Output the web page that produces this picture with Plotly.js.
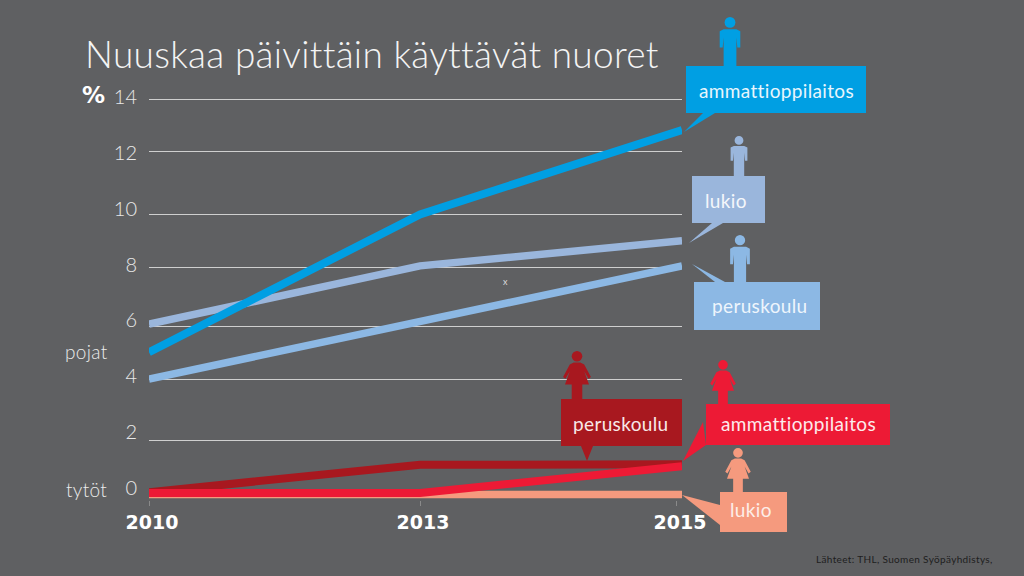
<!DOCTYPE html>
<html><head><meta charset="utf-8">
<script src="https://cdn.plot.ly/plotly-3.0.1.min.js"></script>
<style>html,body{margin:0;padding:0;background:#5f6062}
.gtitle{letter-spacing:.3px}
.annotation-text{letter-spacing:.35px}
</style></head>
<body><div id="chart" style="width:1024px;height:576px"></div>
<script>
// ---- data ----
const years = ['2010','2013','2015'];
const yearPositions = [0, 1.017, 2];
const yearTickPositions = [0, 1.017, 1.981];
const boysVocational = [5.0, 9.9, 12.9];
const boysUpperSec = [6.0, 8.07, 8.96];
const boysComprehensive = [4.05, 6.11, 8.07];
const girlsComprehensive = [0.03, 1.0, 1.02];
const girlsVocational = [0.0, 0.0, 0.95];
const girlsUpperSec = [-0.05, -0.05, -0.05];
const gridValues = [14, 12.13, 9.91, 8.03, 5.9, 4.02, 1.85];
const tickLabels = [14, 12, 10, 8, 6, 4, 2, 0];

// ---- colours ----
const BG='#5f6062', BLUE='#009fe3', LUKIO='#9ab6dc', PERUS='#8cb8e4', DARK='#a8181f', RED='#ed1a35', SALMON='#f59a7e';

// ---- page layout helpers (image pixels to paper fractions) ----
const FONT='Lato, sans-serif';
const L=149,R=682,T=90,B=500;
const px=x=>(x-L)/(R-L), py=y=>(B-y)/(B-T);
const poly=(pts,color)=>({type:'path',xref:'paper',yref:'paper',fillcolor:color,line:{width:0},
  path:'M'+pts.map(p=>px(p[0])+','+py(p[1])).join('L')+'Z'});
const rect=(x0,y0,x1,y1,color)=>({type:'rect',xref:'paper',yref:'paper',x0:px(x0),x1:px(x1),y0:py(y1),y1:py(y0),fillcolor:color,line:{width:0}});
const head=(cx,cy,r,color)=>({type:'circle',xref:'paper',yref:'paper',x0:px(cx-r),x1:px(cx+r),y0:py(cy+r),y1:py(cy-r),fillcolor:color,line:{width:0}});
const malePts=[[-.13,.25],[.13,.25],[.21,.29],[.21,.62],[.15,.62],[.13,.42],[.13,1],[-.13,1],[-.13,.42],[-.15,.62],[-.21,.62],[-.21,.29]];
const femalePts=[[-.07,.24],[.07,.24],[.15,.28],[.29,.54],[.24,.58],[.15,.42],[.25,.7],[.11,.7],[.11,1],[-.11,1],[-.11,.7],[-.25,.7],[-.15,.42],[-.24,.58],[-.29,.54],[-.15,.28]];
const person=(pts,cx,top,h,color)=>[
  head(cx,top+.11*h,.11*h,color),
  poly(pts.map(p=>[cx+p[0]*h,top+p[1]*h]),color)];

const shapes=[
  rect(686,66,866,113,BLUE), poly([[684,132],[703,113],[715,113]],BLUE), ...person(malePts,730,17,49,BLUE),
  rect(692,176,765,223,LUKIO), poly([[689,243],[712,223],[723,223]],LUKIO), ...person(malePts,739,136,40,LUKIO),
  rect(694,282,820,330,PERUS), poly([[692,264],[715,282],[725,282]],PERUS), ...person(malePts,740,235,47,PERUS),
  rect(561,399,682,446,DARK), poly([[581,446],[593,446],[587,461]],DARK), ...person(femalePts,577,351,48,DARK),
  rect(706,404,890,445,RED), poly([[683,461],[703,422],[706,445]],RED), ...person(femalePts,723,360,44,RED),
  rect(720,492,787,532,SALMON), poly([[682,495],[720,505],[720,525]],SALMON), ...person(femalePts,738,448,44,SALMON)
];

const note=(text,x,y,anchor,size,color,weight)=>({text:text,xref:'paper',yref:'paper',x:px(x),y:py(y),xanchor:anchor,yanchor:'middle',showarrow:false,
  font:{family:FONT,size:size,color:color,weight:weight||400}});
const annotations=[
  note('ammattioppilaitos',776.5,90,'center',19,'#e8f6fd'),
  note('lukio',726,200,'center',19,'#f4f7fb'),
  note('peruskoulu',759,305,'center',19,'#eef5fc'),
  note('peruskoulu',620,423,'center',19,'#f8e8e8'),
  note('ammattioppilaitos',798,423,'center',19,'#fdeaec'),
  note('lukio',751,509,'center',19,'#fdeee8'),
  note('pojat',86.5,351,'center',19,'#ececec',300),
  note('tytöt',86,489,'center',19,'#ececec',300),
  {text:'<b>%</b>',xref:'paper',yref:'paper',x:px(93),y:py(95),xanchor:'center',yanchor:'middle',showarrow:false,font:{family:'DejaVu Sans',size:23,color:'#ffffff'}},
  note('x',505,281,'center',9,'#dddddd'),
  note('Lähteet: THL, Suomen Syöpäyhdistys,',904.5,559,'center',10,'#1e1e1e')
];

const line=(y,color,width,name)=>({x:yearPositions,y:y,name:name,mode:'lines',type:'scatter',line:{color:color,width:width,shape:'linear'},hoverinfo:'name+y'});
const data=[
  line(boysUpperSec,LUKIO,7.5,'pojat lukio'),
  line(boysComprehensive,PERUS,7.5,'pojat peruskoulu'),
  line(boysVocational,BLUE,8,'pojat ammattioppilaitos'),
  line(girlsUpperSec,SALMON,7.5,'tytöt lukio'),
  line(girlsComprehensive,DARK,8,'tytöt peruskoulu'),
  line(girlsVocational,RED,8,'tytöt ammattioppilaitos'),
  {x:[0],y:[0],yaxis:'y2',mode:'none',type:'scatter',showlegend:false,hoverinfo:'skip'}
];

const layout={
  width:1024,height:576,paper_bgcolor:BG,plot_bgcolor:BG,showlegend:false,
  margin:{l:L,r:1024-R,t:T,b:576-B,pad:0},
  title:{text:'Nuuskaa päivittäin käyttävät nuoret',x:85/1024,xanchor:'left',y:1-55/576,yanchor:'middle',
    font:{family:FONT,size:37,color:'#f4f4f4',weight:300}},
  xaxis:{range:[0,2],tickmode:'array',tickvals:yearTickPositions,ticktext:years,showgrid:false,zeroline:false,showline:false,
    ticks:'outside',ticklen:5,tickwidth:1,tickcolor:'#8a8a8a',ticklabelshift:3,
    tickfont:{family:'DejaVu Sans',size:19,color:'#ffffff',weight:700}},
  yaxis:{range:[-0.249,14.32],tickmode:'array',tickvals:gridValues,showticklabels:false,ticks:'',
    showgrid:true,gridcolor:'#cfcfcf',gridwidth:1,zeroline:false,showline:false},
  yaxis2:{overlaying:'y',side:'left',anchor:'x',range:[-0.43,14.25],tickmode:'array',tickvals:tickLabels,ticktext:tickLabels.map(String),
    showgrid:false,zeroline:false,showline:false,ticks:'outside',ticklen:7,tickcolor:'rgba(0,0,0,0)',
    tickfont:{family:FONT,size:20,color:'#e8e8e8',weight:300}},
  shapes:shapes,annotations:annotations
};
Plotly.newPlot('chart',data,layout,{displayModeBar:false,responsive:false});
</script></body></html>
